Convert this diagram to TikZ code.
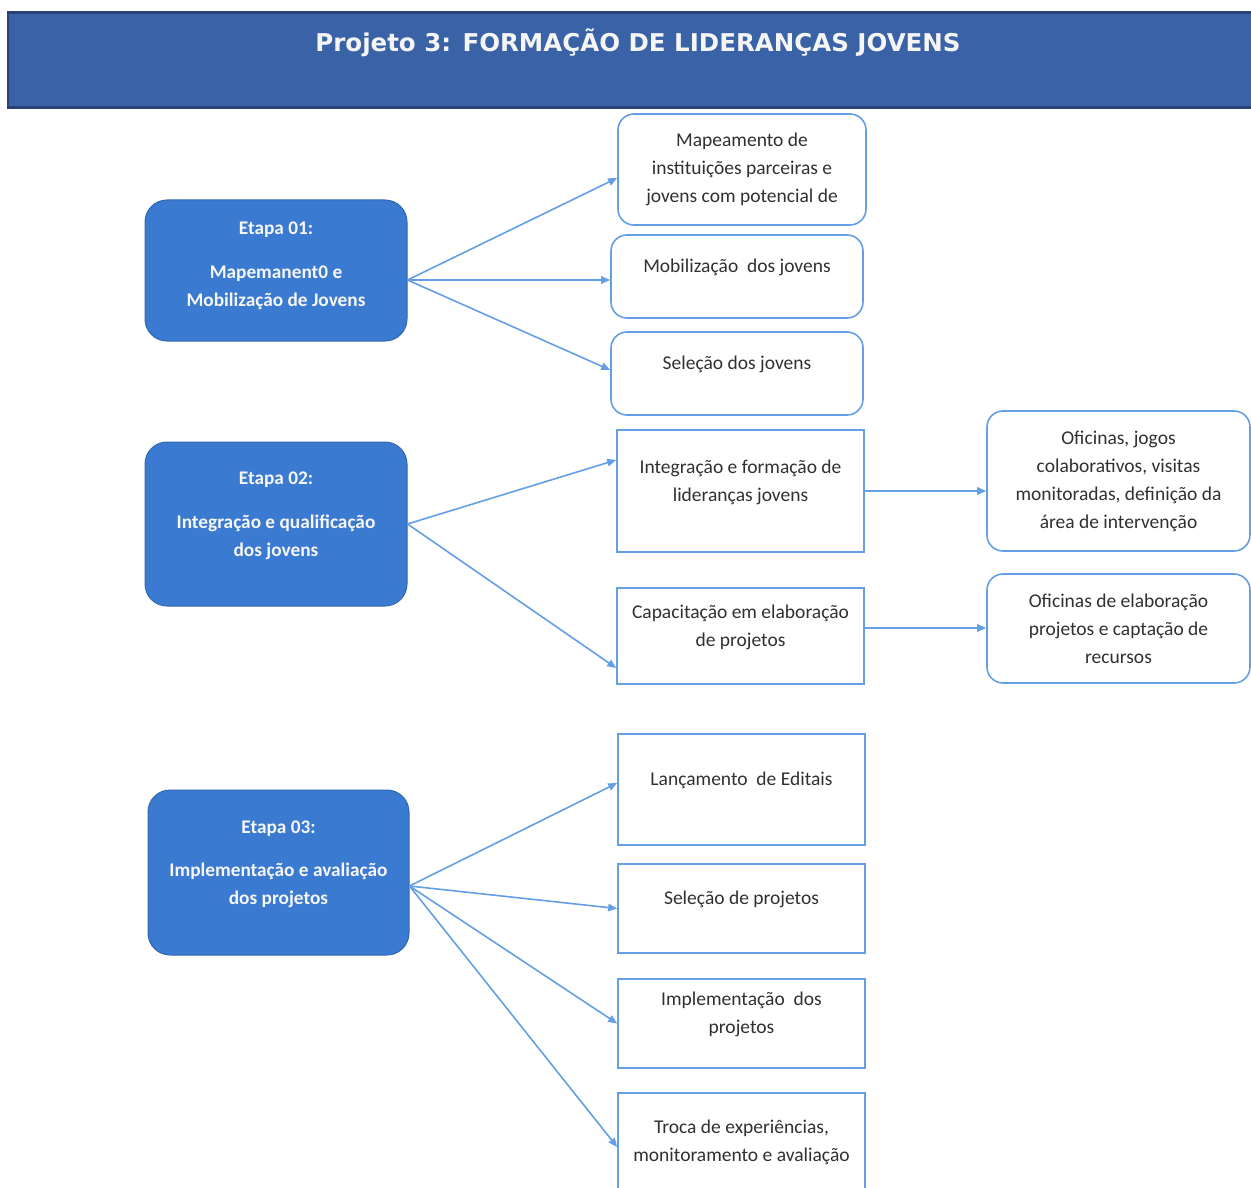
\documentclass[tikz,border=0pt]{standalone}
\usepackage{fontspec}
\setmainfont{Carlito}
\newfontfamily\titlefont{DejaVu Sans}
\usepackage{tikz}
\usetikzlibrary{positioning}
\usetikzlibrary{arrows.meta}
\usetikzlibrary{calc}
\usepackage{xcolor}
\definecolor{barblue}{RGB}{58,98,166}
\definecolor{bardark}{RGB}{38,66,118}
\definecolor{stepblue}{RGB}{58,122,208}
\definecolor{lineblue}{RGB}{100,158,228}
\definecolor{txtgray}{RGB}{48,48,48}

\begin{document}
\begin{tikzpicture}[
  x=1pt, y=-1pt,
  font=\fontsize{19.5}{28}\selectfont,
  bar/.style={
    fill=barblue, draw=bardark, line width=2.5pt,
    minimum width=1252pt, minimum height=95pt, inner sep=0pt
  },
  bartext/.style={font=\titlefont\bfseries\fontsize{24.5}{28}\selectfont, text=white!92!gray},
  etapa/.style={
    fill=stepblue, draw=stepblue!85!black, line width=1pt,
    rounded corners=22pt, minimum width=262pt,
    align=center, text=white!94!gray, text depth=20pt,
    font=\bfseries\fontsize{19.3}{28}\selectfont
  },
  rbox/.style={draw=lineblue, line width=1.6pt, rounded corners=16pt, align=center, text=txtgray},
  sbox/.style={draw=lineblue, line width=1.6pt, align=center, text=txtgray},
  toptext/.style={text depth=21pt},
  arrow/.style={-{Triangle[length=9pt,width=7.5pt]}, draw=lineblue, line width=1.6pt}
]
\useasboundingbox (0,0) rectangle (1251,1188);
\clip (0,0) rectangle (1251,1188);

% --- Title bar ---
\node[bar] (T) at (634,60) {};
\node[bartext] (Tt) at (638,43) {Projeto 3: FORMAÇÃO DE LIDERANÇAS JOVENS};

% --- Stages (left column) ---
\node[etapa, text depth=13pt, minimum height=141pt] (E1) at (276,270.5) {Etapa 01:\\[16pt]Mapemanent0 e\\Mobilização de Jovens};
\node[etapa, minimum height=164pt] (E2) at (276,524) {Etapa 02:\\[16pt]Integração e qualificação\\dos jovens};
\node[etapa, minimum height=165pt, minimum width=261pt] (E3) at (278.5,872.5) {Etapa 03:\\[15pt]Implementação e avaliação\\dos projetos};

% --- Stage 01 activities ---
\node[rbox, minimum width=248pt, minimum height=111pt] (A1) at (742,169.5) {Mapeamento de\\instituições parceiras e\\jovens com potencial de};
\node[rbox, toptext, minimum width=252pt, minimum height=83pt] (A2) at (737,276.5) {Mobilização\ \ dos jovens};
\node[rbox, toptext, minimum width=252pt, minimum height=83pt] (A3) at (737,373.5) {Seleção dos jovens};

% --- Stage 02 activities ---
\node[sbox, toptext, minimum width=247pt, minimum height=122pt] (B1) at (740.5,491) {Integração e formação de\\lideranças jovens};
\node[sbox, toptext, minimum width=247pt, minimum height=96pt] (B2) at (740.5,636) {Capacitação em elaboração\\de projetos};
\node[rbox, minimum width=263pt, minimum height=140pt] (D1) at (1118.5,481) {Oficinas, jogos\\colaborativos, visitas\\monitoradas, definição da\\área de intervenção};
\node[rbox, minimum width=263pt, minimum height=109pt] (D2) at (1118.5,628.5) {Oficinas de elaboração\\projetos e captação de\\recursos};

% --- Stage 03 activities ---
\node[sbox, toptext, minimum width=247pt, minimum height=111pt] (C1) at (741.5,789.5) {Lançamento\ \ de Editais};
\node[sbox, toptext, minimum width=247pt, minimum height=89pt] (C2) at (741.5,908.5) {Seleção de projetos};
\node[sbox, toptext, minimum width=247pt, minimum height=89pt] (C3) at (741.5,1023.5) {Implementação\ \ dos\\projetos};
\node[sbox, minimum width=247pt, minimum height=98pt] (C4) at (741.5,1142) {Troca de experiências,\\monitoramento e avaliação};

% --- Connectors ---
\draw[arrow] ([yshift=-9.5pt]E1.east) -- ([yshift=-8.5pt]A1.west);
\draw[arrow] ([yshift=-9.5pt]E1.east) -- ([yshift=-3.5pt]A2.west);
\draw[arrow] ([yshift=-9.5pt]E1.east) -- ([yshift=3.5pt]A3.west);

\draw[arrow] (E2.east) -- ([yshift=31pt]B1.west);
\draw[arrow] (E2.east) -- ([yshift=-32pt]B2.west);
\draw[arrow] (B1.east) -- (B1.east -| D1.west);
\draw[arrow] ([yshift=8pt]B2.east) -- ([yshift=8pt]B2.east -| D2.west);

\draw[arrow] ([yshift=-13.5pt]E3.east) -- ([yshift=6.5pt]C1.west);
\draw[arrow] ([yshift=-13.5pt]E3.east) -- (C2.west);
\draw[arrow] ([yshift=-13.5pt]E3.east) -- (C3.west);
\draw[arrow] ([yshift=-13.5pt]E3.east) -- ([yshift=-5pt]C4.west);

\end{tikzpicture}
\end{document}
